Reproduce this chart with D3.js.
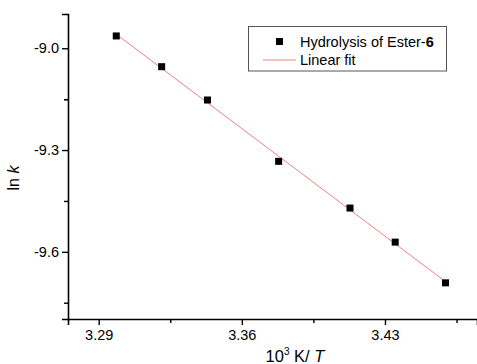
<!DOCTYPE html>
<html>
<head>
<meta charset="utf-8">
<script src="https://cdn.jsdelivr.net/npm/d3@7"></script>
<style>
  body { margin: 0; background: #fff; }
  svg { font-family: "Liberation Sans", Arial, sans-serif; }
</style>
</head>
<body>
<script>
// measured points: 10^3 K / T vs ln k
const invT = [3.2986, 3.3208, 3.3432, 3.3780, 3.4129, 3.4350, 3.4596];
const lnK = [-8.9637, -9.0543, -9.1525, -9.3333, -9.4710, -9.5714, -9.6914];
const xTicks = [3.29, 3.36, 3.43];
const yTicks = [-9.0, -9.3, -9.6];

const W = 477, H = 364;
const margin = {left: 68, top: 14, right: 0, bottom: 45};

const svg = d3.select("body").append("svg")
    .attr("width", W)
    .attr("height", H);

const x = d3.scaleLinear()
    .domain([3.275, 3.475])
    .range([margin.left, W - margin.right]);

const y = d3.scaleLinear()
    .domain([-9.798, -8.899])
    .range([H - margin.bottom, margin.top]);

// least squares fit
const mx = d3.mean(invT), my = d3.mean(lnK);
const slope = d3.sum(invT, (v, i) => (v - mx) * (lnK[i] - my)) / d3.sum(invT, v => (v - mx) ** 2);
const icpt = my - slope * mx;
const fitX = [d3.min(invT), d3.max(invT)];

svg.append("path")
    .datum(fitX)
    .attr("fill", "none")
    .attr("stroke", "#f08080")
    .attr("stroke-width", 1)
    .attr("d", d3.line().x(d => x(d)).y(d => y(slope * d + icpt)));

// points
svg.selectAll("rect.pt")
    .data(invT)
    .enter()
    .append("rect")
    .attr("class", "pt")
    .attr("x", d => x(d) - 3.5)
    .attr("y", (d, i) => y(lnK[i]) - 3.5)
    .attr("width", 7)
    .attr("height", 7)
    .attr("fill", "#000");

// plain hyphen instead of unicode minus
const fmt = p => d => d3.format(p)(d).replace("\u2212", "-");

// x axis, major + minor
const minorX = xTicks.map(t => t + 0.035);
svg.append("g")
    .attr("transform", `translate(0, ${H - margin.bottom})`)
    .call(d3.axisBottom(x).tickValues(minorX).tickSize(4).tickFormat(""))
    .call(g => g.select(".domain").remove());
svg.append("g")
    .attr("transform", `translate(0, ${H - margin.bottom})`)
    .call(d3.axisBottom(x).tickValues(xTicks).tickSizeOuter(0).tickSize(6).tickPadding(5).tickFormat(fmt(".2f")));

// y axis, major + minor
const minorY = yTicks.map(t => t - 0.15).concat([-9.15]);
svg.append("g")
    .attr("transform", `translate(${margin.left}, 0)`)
    .call(d3.axisLeft(y).tickValues(minorY).tickSize(4).tickFormat(""))
    .call(g => g.select(".domain").remove());
svg.append("g")
    .attr("transform", `translate(${margin.left}, 0)`)
    .call(d3.axisLeft(y).tickValues(yTicks).tickSizeOuter(0).tickSize(6).tickPadding(3).tickFormat(fmt(".1f")));

svg.selectAll(".domain").attr("stroke-width", 1.6);
svg.selectAll(".tick line").attr("stroke-width", 1.4);
svg.selectAll(".tick text").attr("font-size", 14.5).attr("font-family", "Liberation Sans, Arial, sans-serif").attr("fill", "#000");

// axis titles
svg.append("text")
    .attr("transform", `translate(19, 178) rotate(-90)`)
    .attr("text-anchor", "middle")
    .attr("font-size", 16)
    .html('ln <tspan font-style="italic">k</tspan>');

const xt = svg.append("text")
    .attr("x", 295)
    .attr("y", 362)
    .attr("text-anchor", "middle")
    .attr("font-size", 16.5);
xt.append("tspan").text("10");
xt.append("tspan").attr("font-size", 10).attr("dy", -7).text("3");
xt.append("tspan").attr("dy", 7).text(" K/ ");
xt.append("tspan").attr("font-style", "italic").text("T");

// legend
const lg = svg.append("g");
lg.append("rect")
    .attr("x", 248.5).attr("y", 26.5)
    .attr("width", 198).attr("height", 44.5)
    .attr("fill", "#fff").attr("stroke", "#555").attr("stroke-width", 1);
lg.append("rect")
    .attr("x", 279.5 - 3.5).attr("y", 41.5 - 3.5)
    .attr("width", 7).attr("height", 7).attr("fill", "#000");
lg.append("line")
    .attr("x1", 263).attr("x2", 296).attr("y1", 60).attr("y2", 60)
    .attr("stroke", "#f08080").attr("stroke-width", 1);
const t1 = lg.append("text").attr("x", 300).attr("y", 47).attr("font-size", 14.5);
t1.append("tspan").text("Hydrolysis of Ester-");
t1.append("tspan").attr("font-weight", "bold").text("6");
lg.append("text").attr("x", 300).attr("y", 65).attr("font-size", 14.5).text("Linear fit");
</script>
</body>
</html>
